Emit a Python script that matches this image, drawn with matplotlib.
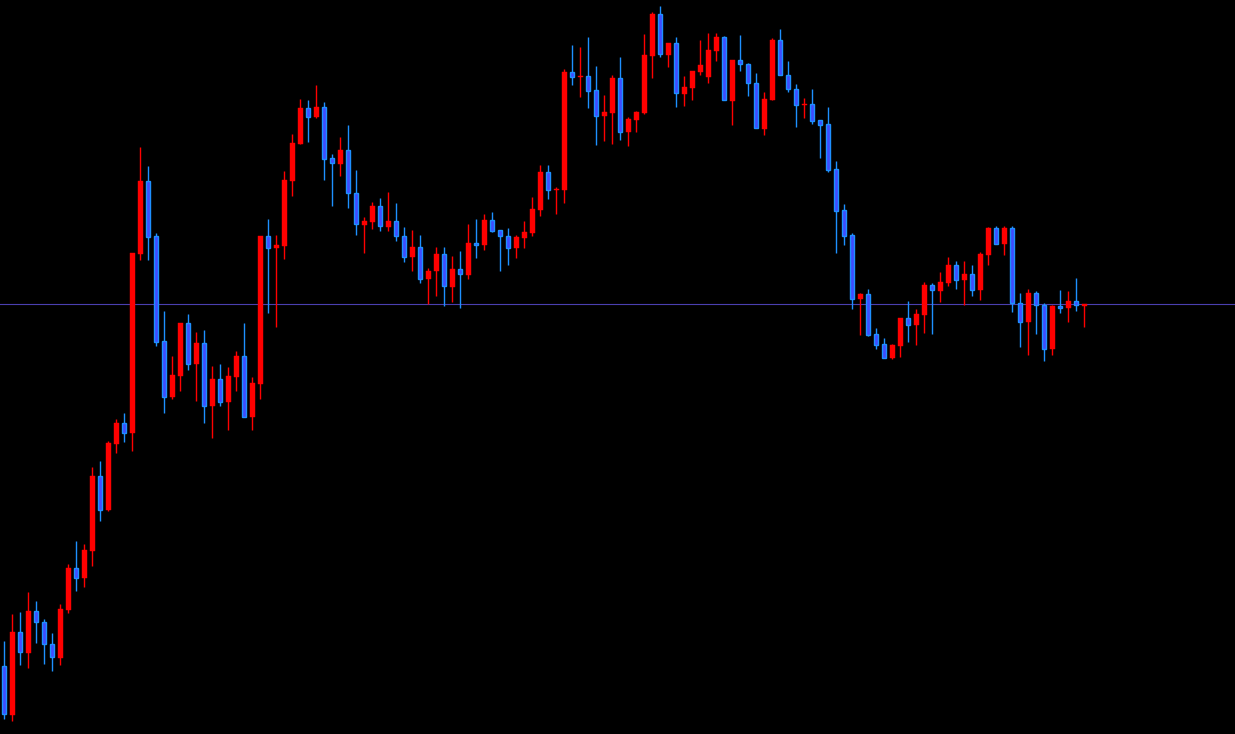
import matplotlib
matplotlib.use("Agg")
import matplotlib.pyplot as plt
import numpy as np

opens = [68, 19.3, 101.7, 81.3, 122.7, 111.7, 89.7, 76.3, 124.3, 166,
         156.3, 183.3, 258, 224, 290.3, 311, 301, 480.3, 553, 497.7,
         393, 337, 358.3, 411, 370.3, 390.7, 328.3, 355, 332.3, 357.3,
         378, 317.3, 350.3, 498, 486.3, 488.3, 553.3, 590.3, 625.7, 617.3,
         626.7, 575.7, 570.3, 583.7, 540.7, 509.3, 512.3, 527.7, 507.3, 512.7,
         497.7, 476.7, 486.7, 455.3, 462.7, 479.7, 447.3, 464.7, 459.3, 490.7,
         488.7, 514, 503.7, 497.7, 486.3, 496.3, 501.3, 524.3, 562, 544.3,
         544.3, 661.7, 656.7, 657.7, 643.7, 618.3, 621, 656, 602.3, 614.3,
         621, 678.3, 719.7, 679, 690.7, 640.3, 646.3, 662.3, 657, 683.3,
         696.7, 633.3, 673.7, 670, 651, 605.3, 634.3, 693.7, 658.7, 644.7,
         629, 629.7, 613.7, 609.7, 564.7, 523.7, 498.7, 435.3, 439.7, 399.7,
         389.7, 376.3, 388.3, 416, 409.3, 419.3, 448.7, 443.3, 451.3, 469,
         454.3, 460, 444.3, 479.3, 506, 490.3, 506, 430.7, 412.3, 441,
         428.7, 385.3, 428, 426.3, 433, 428.3]
highs = [93, 120, 121.7, 142, 133, 115, 101.3, 130, 170, 193,
         190, 267, 273, 293, 315, 321, 481, 587.3, 568, 501,
         423, 378, 411, 420, 402, 404, 368, 370, 367, 383,
         411, 357, 498, 515, 499, 563, 600, 635, 634, 649,
         632, 580, 597, 609, 564, 517, 532, 536, 542, 531,
         507, 504, 499, 466, 487, 487, 478, 483, 510, 515,
         520, 522, 503.7, 506, 499, 513, 537, 569, 569, 547,
         665, 689, 687, 697, 668, 639, 658.7, 677, 617, 623,
         700, 722, 728, 691, 697, 658, 663, 694, 701, 701,
         698, 674, 699, 671, 661, 642, 696, 705, 673, 650,
         636, 645, 614, 627, 573, 530, 501, 440.7, 445, 406,
         396, 389.7, 416, 433, 425, 451.7, 450.7, 462, 477, 473,
         473, 469, 482, 507, 508, 508, 508, 441, 445, 443,
         430.7, 429, 444, 443, 456, 430]
lows = [15.3, 13.3, 69.3, 66.3, 90.7, 70.3, 63.3, 69.3, 121.3, 143.3,
        147.3, 168.3, 213.3, 223.3, 281.3, 292.3, 283.3, 474, 474, 388.3,
        321.3, 334.7, 343.3, 364.3, 333.3, 311.3, 296.3, 328.3, 304.3, 343.3,
        317.3, 304.3, 335.3, 421.3, 407.3, 475.3, 538.3, 590.3, 592.3, 616.3,
        554.3, 528.3, 558.3, 526.3, 499.3, 481.3, 505.3, 503.3, 503.3, 493.3,
        472.3, 463.3, 451.3, 430, 438.3, 428.3, 432.3, 426.3, 455.3, 476.3,
        484.3, 502.3, 462.7, 469.3, 476.3, 486.3, 498.3, 518.3, 535.3, 520.3,
        531.3, 649.3, 637.3, 626.3, 589.3, 593.3, 590.3, 594.3, 588.3, 602.3,
        620.3, 656.3, 676.7, 667.3, 627.3, 628, 634.3, 659.3, 651.3, 673.3,
        633.7, 609.3, 663.3, 638.3, 605.7, 599.3, 634.3, 658.7, 642.3, 607.3,
        616.3, 610.3, 576.3, 562.3, 481.3, 489, 425.3, 399, 398, 385,
        376.3, 375, 377.3, 392.3, 389.3, 401.3, 400.3, 432.3, 448.3, 445.3,
        429.3, 438.3, 434.3, 469.3, 490.3, 479.3, 422.3, 387.3, 379.3, 400.3,
        373.3, 379.3, 421.3, 412.3, 423.3, 407.3]
closes = [19.7, 102, 81.7, 123, 111.7, 89.7, 76.7, 124.7, 166, 156.3,
          184, 258, 224.3, 291, 311, 301.3, 481, 553, 497.3, 392.3,
          337.3, 359, 411, 370.3, 391, 328.3, 355, 332.3, 358, 378,
          317.3, 351, 498, 486.3, 489, 554, 591, 626, 617.3, 626.7,
          575.3, 570.7, 584, 540.7, 509.7, 513, 528, 507.7, 513, 497.7,
          476.7, 486.7, 455.3, 462.7, 479.7, 447.7, 464.7, 459.7, 491, 488.7,
          514, 503.3, 497.7, 486.3, 497, 502, 525, 562, 544.3, 545,
          662, 656.7, 658, 643.3, 618.3, 622, 656, 602.3, 615, 622,
          679, 720, 679.7, 691, 640.7, 647, 663, 669, 684, 697,
          633.7, 674, 669.7, 650.7, 605.7, 635, 694, 658.7, 644.7, 628.7,
          630, 613.3, 609.3, 564.3, 523.3, 498.3, 435.3, 439.7, 399.3, 389.3,
          376.3, 388.7, 416, 409.3, 419.7, 449, 443.7, 452, 469, 454.3,
          460, 444.3, 480, 506, 490.3, 506, 430.7, 412.3, 441, 428.7,
          385.3, 428, 426.3, 433, 428.7, 430]
bid_price = 430

UP_COLOR = "#FF0000"
DOWN_FILL = "#3F4BFF"
DOWN_EDGE = "#1E90FF"
BG = "#000000"

o = np.array(opens, dtype=float)
h = np.array(highs, dtype=float)
l = np.array(lows, dtype=float)
c = np.array(closes, dtype=float)
idx = np.arange(len(o))
up = c >= o

fig = plt.figure(figsize=(12.35, 7.34), dpi=100, facecolor=BG)
ax = fig.add_axes([0, 0, 1, 1], facecolor=BG)

ax.axhline(bid_price, color="#4A3FB0", linewidth=0.8, zorder=1)

ax.vlines(idx[up], l[up], h[up], color=UP_COLOR, linewidth=1.0, zorder=2)
ax.vlines(idx[~up], l[~up], h[~up], color=DOWN_EDGE, linewidth=1.0, zorder=2)

body_bottom = np.minimum(o, c)
body_height = np.maximum(np.abs(c - o), 1.2)
ax.bar(idx[up], body_height[up], bottom=body_bottom[up], width=0.6,
       color=UP_COLOR, edgecolor=UP_COLOR, linewidth=0.3, zorder=3)
ax.bar(idx[~up], body_height[~up], bottom=body_bottom[~up], width=0.5,
       color=DOWN_FILL, edgecolor=DOWN_EDGE, linewidth=1.0, zorder=3)

ax.set_xlim(-4.3 / 8, (1235 - 4.3) / 8)
ax.set_ylim(0, 734)
ax.axis("off")

fig.savefig("out.png", dpi=100, facecolor=BG)
